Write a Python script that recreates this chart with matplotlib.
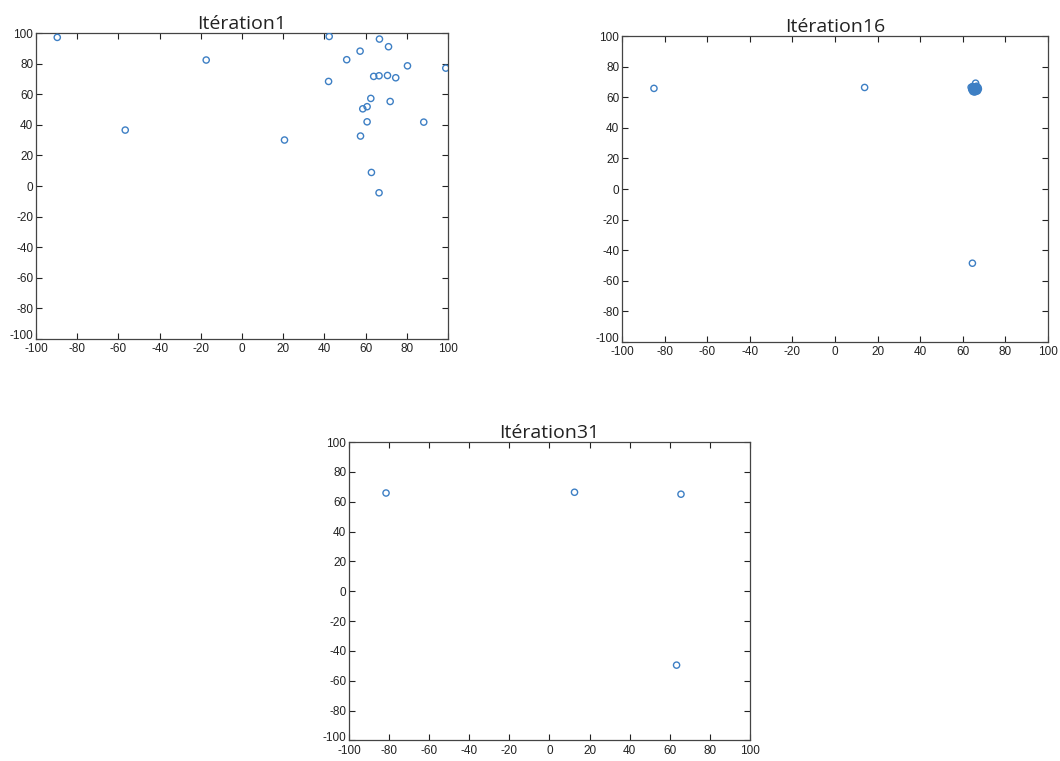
import matplotlib
matplotlib.use("Agg")
import matplotlib.pyplot as plt
import matplotlib.transforms as mtransforms

plt.rcParams["axes.unicode_minus"] = False

# Iteration 1
it1_x = [-89.7, -56.7, -17.4, 20.6, 42.3, 42.0, 50.8, 57.3, 66.7, 71.1, 63.9, 66.5,
         70.6, 74.6, 80.3, 98.9, 62.5, 71.9, 58.6, 60.7, 60.7, 88.2, 57.5, 62.8, 66.5]
it1_y = [97.2, 36.6, 82.4, 30.1, 97.8, 68.4, 82.6, 88.2, 96.1, 91.1, 71.7, 72.1,
         72.3, 70.8, 78.6, 77.1, 57.3, 55.3, 50.5, 51.9, 42.0, 41.8, 32.7, 8.9, -4.4]

# Iteration 16
it16_x = [-85.0, 13.9, 64.5, 66.0, 63.9, 64.6, 65.3, 66.1, 66.9, 64.2, 65.0, 65.8,
          66.6, 67.3, 64.7, 65.5, 66.3, 66.9, 64.4, 65.6, 67.1, 65.1, 66.5]
it16_y = [65.8, 66.4, -48.5, 69.2, 66.5, 67.0, 66.2, 66.8, 65.9, 65.0, 64.6, 65.2,
          64.8, 65.4, 63.8, 63.4, 63.9, 64.2, 66.0, 65.6, 66.4, 65.5, 67.2]

# Iteration 31
it31_x = [-81.5, 12.5, 65.6, 63.4]
it31_y = [65.9, 66.4, 65.1, -49.5]

titles = ["Itération1", "Itération16", "Itération31"]
ticks = list(range(-100, 101, 20))

fig = plt.figure(figsize=(10.6, 7.61), dpi=100)
positions = [
    [0.034, 0.5545, 0.3887, 0.402],
    [0.5868, 0.5506, 0.4019, 0.402],
    [0.3292, 0.027, 0.3783, 0.392],
]
data = [(it1_x, it1_y), (it16_x, it16_y), (it31_x, it31_y)]
mcolor = "#3d7fc4"

for pos, (xs, ys), title in zip(positions, data, titles):
    ax = fig.add_axes(pos)
    ax.scatter(xs, ys, s=20, facecolors="none", edgecolors=mcolor, linewidths=1.0, zorder=3)
    ax.set_xlim(-100, 100)
    ax.set_ylim(-100, 100)
    ax.set_xticks(ticks)
    ax.set_yticks(ticks)
    ax.tick_params(direction="in", length=4, width=0.8, top=True, right=True,
                   labelsize=8.5, colors="#222222")
    ax.tick_params(axis="x", pad=3)
    ax.tick_params(axis="y", pad=2)
    for lab in ax.get_xticklabels() + ax.get_yticklabels():
        lab.set_fontfamily("Liberation Sans")
    # nudge the lowest y label slightly up so it does not collide with the x label
    ylabs = ax.get_yticklabels()
    ylabs[0].set_transform(ylabs[0].get_transform() +
                           mtransforms.ScaledTranslation(0, 3 / 72, fig.dpi_scale_trans))
    for sp in ax.spines.values():
        sp.set_color("#444444")
        sp.set_linewidth(0.9)
    ax.set_title(title, fontsize=14, fontfamily="Open Sans", pad=3, color="#222222")

fig.savefig("out.png", dpi=100)
